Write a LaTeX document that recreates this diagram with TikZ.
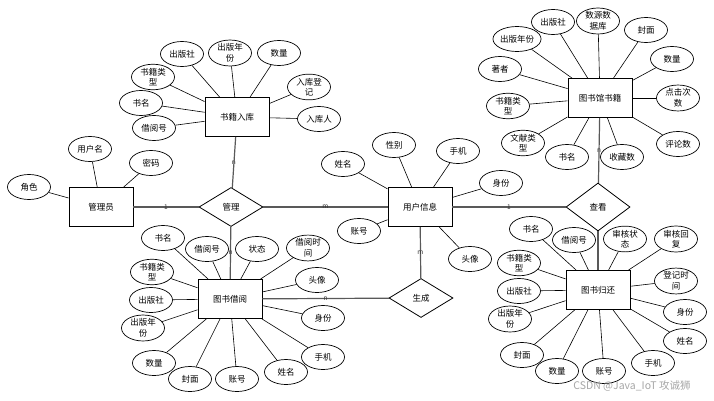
\documentclass[tikz,border=0pt]{standalone}
\usepackage{fontspec}
\setmainfont{Noto Sans CJK SC}
\usepackage{tikz}
\usetikzlibrary{shapes.geometric}
\tikzset{
    entity/.style={rectangle, draw=black, line width=0.9pt, fill=white, align=center, minimum width=64pt, minimum height=39pt, font=\fontsize{8.5}{10}\selectfont},
    rel/.style={diamond, draw=black, line width=0.8pt, fill=white, inner sep=0pt, minimum width=64pt, minimum height=39pt, font=\fontsize{8.5}{10}\selectfont},
    attr/.style={ellipse, draw=black, line width=0.7pt, fill=white, inner sep=0pt, minimum width=43pt, minimum height=25pt, align=center, font=\fontsize{8.5}{10.5}\selectfont},
    link/.style={line width=1.2pt, draw=black!65},
    attrline/.style={line width=0.6pt},
    card/.style={font=\fontsize{6.5}{6.5}\selectfont, inner sep=0pt, text=black!80}
}
\begin{document}
\begin{tikzpicture}[x=1pt, y=-1pt]
        \useasboundingbox (0,0) rectangle (714,401);

        % Entities
        \node[entity] (ruku) at (237,117) {书籍入库};
        \node[entity] (admin) at (101,207) {管理员};
        \node[entity] (user) at (420,207) {用户信息};
        \node[entity] (libbook) at (600,98) {图书馆书籍};
        \node[entity] (borrow) at (230,299) {图书借阅};
        \node[entity] (giveback) at (598,290) {图书归还};

        % Relations
        \node[rel] (manage) at (231,207) {管理};
        \node[rel, minimum height=48pt] (view) at (598,207) {查看};
        \node[rel] (gen) at (421,298) {生成};

        % Links
        \draw[link] (ruku) -- node[card] {n} (manage);
        \draw[link] (admin) -- node[card] {1} (manage);
        \draw[link] (manage) -- node[card] {m} (user);
        \draw[link] (manage) -- node[card] {n} (borrow);
        \draw[link] (borrow) -- node[card] {n} (gen);
        \draw[link] (user) -- node[card] {m} (gen);
        \draw[link] (user) -- node[card] {1} (view);
        \draw[link] (libbook) -- node[card] {n} (view);
        \draw[link] (view) -- (giveback);

        % Attributes of ruku
        \node[attr] (ruku1) at (182,54) {出版社};
        \node[attr] (ruku2) at (230,53) {出版年\\份};
        \node[attr] (ruku3) at (279,53) {数量};
        \node[attr] (ruku4) at (153,77) {书籍类\\型};
        \node[attr] (ruku5) at (141,103) {书名};
        \node[attr] (ruku6) at (154,128) {借阅号};
        \node[attr] (ruku7) at (309,87) {入库登\\记};
        \node[attr] (ruku8) at (319,119) {入库人};
        \draw[attrline] (ruku) -- (ruku1);
        \draw[attrline] (ruku) -- (ruku2);
        \draw[attrline] (ruku) -- (ruku3);
        \draw[attrline] (ruku) -- (ruku4);
        \draw[attrline] (ruku) -- (ruku5);
        \draw[attrline] (ruku) -- (ruku6);
        \draw[attrline] (ruku) -- (ruku7);
        \draw[attrline] (ruku) -- (ruku8);

        % Attributes of admin
        \node[attr] (admin1) at (90,149) {用户名};
        \node[attr] (admin2) at (151,163) {密码};
        \node[attr] (admin3) at (29,187) {角色};
        \draw[attrline] (admin) -- (admin1);
        \draw[attrline] (admin) -- (admin2);
        \draw[attrline] (admin) -- (admin3);

        % Attributes of user
        \node[attr] (user1) at (343,164) {姓名};
        \node[attr] (user2) at (394,145) {性别};
        \node[attr] (user3) at (458,151) {手机};
        \node[attr] (user4) at (501,183) {身份};
        \node[attr] (user5) at (359,231) {账号};
        \node[attr] (user6) at (470,259) {头像};
        \draw[attrline] (user) -- (user1);
        \draw[attrline] (user) -- (user2);
        \draw[attrline] (user) -- (user3);
        \draw[attrline] (user) -- (user4);
        \draw[attrline] (user) -- (user5);
        \draw[attrline] (user) -- (user6);

        % Attributes of libbook
        \node[attr] (lib1) at (553,22) {出版社};
        \node[attr] (lib2) at (598,21) {数源数\\据库};
        \node[attr] (lib3) at (646,30) {封面};
        \node[attr] (lib4) at (517,39) {出版年份};
        \node[attr] (lib5) at (672,59) {数量};
        \node[attr] (lib6) at (500,69) {著者};
        \node[attr] (lib7) at (678,98) {点击次\\数};
        \node[attr] (lib8) at (508,106) {书籍类\\型};
        \node[attr] (lib9) at (523,143) {文献类\\型};
        \node[attr] (lib10) at (567,157) {书名};
        \node[attr] (lib11) at (622,157) {收藏数};
        \node[attr] (lib12) at (678,144) {评论数};
        \draw[attrline] (libbook) -- (lib1);
        \draw[attrline] (libbook) -- (lib2);
        \draw[attrline] (libbook) -- (lib3);
        \draw[attrline] (libbook) -- (lib4);
        \draw[attrline] (libbook) -- (lib5);
        \draw[attrline] (libbook) -- (lib6);
        \draw[attrline] (libbook) -- (lib7);
        \draw[attrline] (libbook) -- (lib8);
        \draw[attrline] (libbook) -- (lib9);
        \draw[attrline] (libbook) -- (lib10);
        \draw[attrline] (libbook) -- (lib11);
        \draw[attrline] (libbook) -- (lib12);

        % Attributes of borrow
        \node[attr] (bor1) at (163,238) {书名};
        \node[attr] (bor2) at (207,249) {借阅号};
        \node[attr] (bor3) at (257,249) {状态};
        \node[attr] (bor4) at (308,248) {借阅时\\间};
        \node[attr] (bor5) at (152,272) {书籍类\\型};
        \node[attr] (bor6) at (317,280) {头像};
        \node[attr] (bor7) at (151,300) {出版社};
        \node[attr] (bor8) at (143,328) {出版年\\份};
        \node[attr] (bor9) at (323,318) {身份};
        \node[attr] (bor10) at (154,363) {数量};
        \node[attr] (bor11) at (190,379) {封面};
        \node[attr] (bor12) at (237,379) {账号};
        \node[attr] (bor13) at (286,372) {姓名};
        \node[attr] (bor14) at (323,357) {手机};
        \draw[attrline] (borrow) -- (bor1);
        \draw[attrline] (borrow) -- (bor2);
        \draw[attrline] (borrow) -- (bor3);
        \draw[attrline] (borrow) -- (bor4);
        \draw[attrline] (borrow) -- (bor5);
        \draw[attrline] (borrow) -- (bor6);
        \draw[attrline] (borrow) -- (bor7);
        \draw[attrline] (borrow) -- (bor8);
        \draw[attrline] (borrow) -- (bor9);
        \draw[attrline] (borrow) -- (bor10);
        \draw[attrline] (borrow) -- (bor11);
        \draw[attrline] (borrow) -- (bor12);
        \draw[attrline] (borrow) -- (bor13);
        \draw[attrline] (borrow) -- (bor14);

        % Attributes of giveback
        \node[attr] (ret1) at (531,229) {书名};
        \node[attr] (ret2) at (574,240) {借阅号};
        \node[attr] (ret3) at (625,239) {审核状\\态};
        \node[attr] (ret4) at (676,239) {审核回\\复};
        \node[attr] (ret5) at (519,263) {书籍类\\型};
        \node[attr] (ret6) at (676,281) {登记时\\间};
        \node[attr] (ret7) at (519,291) {出版社};
        \node[attr] (ret8) at (685,312) {身份};
        \node[attr] (ret9) at (510,319) {出版年\\份};
        \node[attr] (ret10) at (685,341) {姓名};
        \node[attr] (ret11) at (522,355) {封面};
        \node[attr] (ret12) at (653,363) {手机};
        \node[attr] (ret13) at (557,371) {数量};
        \node[attr] (ret14) at (604,371) {账号};
        \draw[attrline] (giveback) -- (ret1);
        \draw[attrline] (giveback) -- (ret2);
        \draw[attrline] (giveback) -- (ret3);
        \draw[attrline] (giveback) -- (ret4);
        \draw[attrline] (giveback) -- (ret5);
        \draw[attrline] (giveback) -- (ret6);
        \draw[attrline] (giveback) -- (ret7);
        \draw[attrline] (giveback) -- (ret8);
        \draw[attrline] (giveback) -- (ret9);
        \draw[attrline] (giveback) -- (ret10);
        \draw[attrline] (giveback) -- (ret11);
        \draw[attrline] (giveback) -- (ret12);
        \draw[attrline] (giveback) -- (ret13);
        \draw[attrline] (giveback) -- (ret14);

        % Watermark
        \node[text=black!35, font=\fontsize{10.5}{12}\selectfont] (mark) at (632,386) {CSDN @Java\_IoT 攻诚狮};
    \end{tikzpicture}
\end{document}
